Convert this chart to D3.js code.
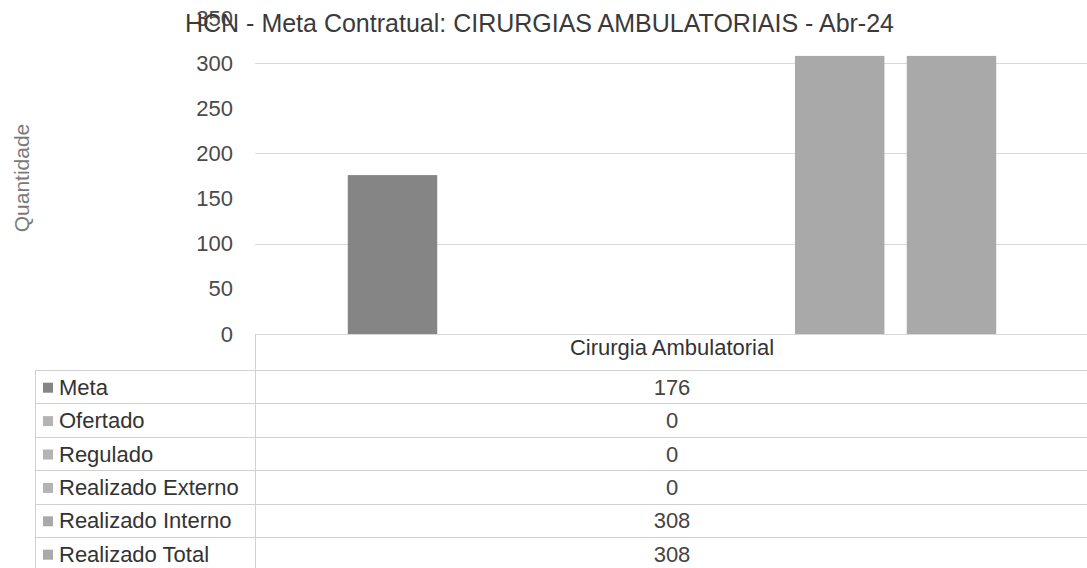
<!DOCTYPE html>
<html>
<head>
<meta charset="utf-8">
<script src="https://cdn.jsdelivr.net/npm/d3@7"></script>
<style>
  body { margin: 0; background: #fff; }
  svg { font-family: "Liberation Sans", Arial, sans-serif; }
</style>
</head>
<body>
<div id="chart"></div>
<script>
var categories = ['Cirurgia Ambulatorial'];
var seriesNames = ['Meta', 'Ofertado', 'Regulado', 'Realizado Externo', 'Realizado Interno', 'Realizado Total'];
var seriesValues = [176, 0, 0, 0, 308, 308];
var seriesColors = ['#858585', '#b4b4b4', '#b4b4b4', '#b4b4b4', '#a9a9a9', '#a9a9a9'];
var yTicks = [0, 50, 100, 150, 200, 250, 300, 350];
var gridTicks = [0, 100, 200, 300];

var width = 1087;
var height = 568;
var plotLeft = 255;
var plotRight = 1089;

var svg = d3.select('#chart').append('svg')
    .attr('width', width)
    .attr('height', height);

var y = d3.scaleLinear().domain([0, 350]).range([334, 18]);

var x0 = d3.scaleBand().domain(categories).range([plotLeft, plotRight]);
var x1 = d3.scaleBand()
    .domain(seriesNames)
    .range([x0(categories[0]), x0(categories[0]) + x0.bandwidth()])
    .paddingInner(0.2)
    .paddingOuter(0.83);

// gridlines
svg.append('g')
    .selectAll('line')
    .data(gridTicks)
    .join('line')
    .attr('x1', plotLeft)
    .attr('x2', width)
    .attr('y1', function(d) { return Math.round(y(d)) + 0.5; })
    .attr('y2', function(d) { return Math.round(y(d)) + 0.5; })
    .attr('stroke', '#d8d8d8')
    .attr('stroke-width', 1);

// y axis labels
var yAxis = d3.axisLeft(y).tickValues(yTicks).tickSize(0).tickPadding(0);
svg.append('g')
    .attr('transform', 'translate(233,0)')
    .call(yAxis)
    .call(function(g) {
        g.select('.domain').remove();
        g.selectAll('text')
            .attr('font-size', 22)
            .attr('fill', '#4a4a4a')
            .attr('font-family', '"Liberation Sans", Arial, sans-serif');
    });

svg.append('text')
    .attr('transform', 'translate(29,178) rotate(-90)')
    .attr('text-anchor', 'middle')
    .attr('font-size', 21)
    .attr('fill', '#7a7a7a')
    .text('Quantidade');

// bars
svg.append('g')
    .selectAll('rect')
    .data(seriesNames)
    .join('rect')
    .attr('x', function(d) { return x1(d); })
    .attr('width', x1.bandwidth())
    .attr('y', function(d, i) { return y(seriesValues[i]); })
    .attr('height', function(d, i) { return y(0) - y(seriesValues[i]); })
    .attr('fill', function(d, i) { return seriesColors[i]; });

// title
svg.append('text')
    .attr('x', 185)
    .attr('y', 32)
    .attr('font-size', 25)
    .attr('fill', '#3a3a3a')
    .text('HCN - Meta Contratual: CIRURGIAS AMBULATORIAIS - Abr-24');

// data table
var tableLeft = 35;
var colCenter = x0(categories[0]) + x0.bandwidth() / 2;
var rowTop = 370;
var rowH = 33.4;

var table = svg.append('g');

table.append('line')
    .attr('x1', plotLeft + 0.5).attr('x2', plotLeft + 0.5)
    .attr('y1', 335).attr('y2', height)
    .attr('stroke', '#d0d0d0');

table.selectAll('line.row')
    .data(d3.range(seriesNames.length + 1))
    .join('line')
    .attr('class', 'row')
    .attr('x1', tableLeft)
    .attr('x2', width)
    .attr('y1', function(i) { return Math.round(rowTop + i * rowH) + 0.5; })
    .attr('y2', function(i) { return Math.round(rowTop + i * rowH) + 0.5; })
    .attr('stroke', '#d0d0d0');

table.append('line')
    .attr('x1', tableLeft + 0.5).attr('x2', tableLeft + 0.5)
    .attr('y1', rowTop).attr('y2', height)
    .attr('stroke', '#d0d0d0');

table.append('text')
    .attr('x', colCenter)
    .attr('y', 355)
    .attr('text-anchor', 'middle')
    .attr('font-size', 22)
    .attr('fill', '#333')
    .text(categories[0]);

var rows = table.selectAll('g.r')
    .data(seriesNames)
    .join('g')
    .attr('class', 'r')
    .attr('transform', function(d, i) { return 'translate(0,' + (rowTop + i * rowH + rowH / 2) + ')'; });

rows.append('rect')
    .attr('x', 43)
    .attr('y', -4)
    .attr('width', 10)
    .attr('height', 10)
    .attr('fill', function(d, i) { return seriesColors[i]; });

rows.append('text')
    .attr('x', 59)
    .attr('y', 8)
    .attr('font-size', 22)
    .attr('fill', '#333')
    .text(function(d) { return d; });

rows.append('text')
    .attr('x', colCenter)
    .attr('y', 8)
    .attr('text-anchor', 'middle')
    .attr('font-size', 22)
    .attr('fill', '#444')
    .text(function(d, i) { return seriesValues[i]; });
</script>
</body>
</html>
